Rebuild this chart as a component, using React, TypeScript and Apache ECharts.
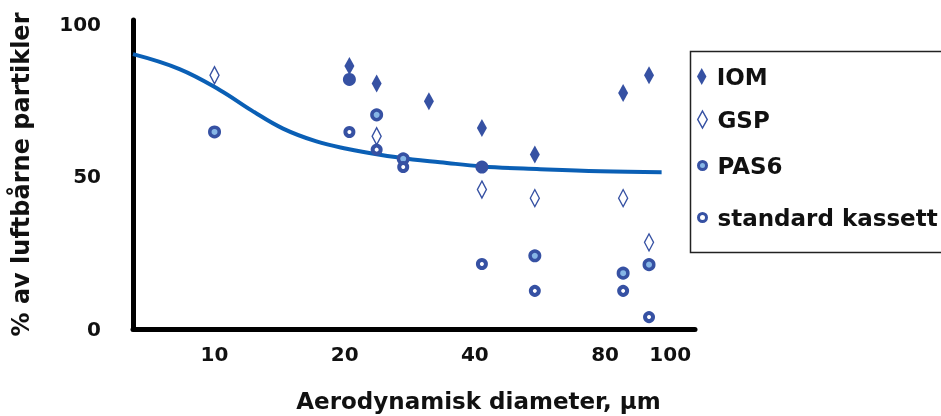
import React, { useEffect, useRef } from "react";
import * as echarts from "echarts";

// ---- data ----
const DIAMETER_REF = 10; // µm, the x axis is logarithmic (base 2) around this value

const xTickLabels = ["10", "20", "40", "80", "100"];
const xTickDiameters = [10, 20, 40, 80, 113]; // where each tick label sits on the axis
const xMinDiameter = 6.48;
const xMaxDiameter = 129;

const iomX = [20.5, 23.7, 31.3, 41.5, 55, 88, 101];
const iomY = [86.2, 80.5, 74.7, 65.9, 57.2, 77.4, 83.2];

const gspX = [10, 23.7, 41.5, 55, 88, 101];
const gspY = [83.2, 63.2, 45.7, 42.9, 42.9, 28.4];

const pas6X = [10, 23.7, 27.3, 55, 88, 101];
const pas6Y = [64.6, 70.2, 55.8, 24.0, 18.3, 21.1];

const stdX = [20.5, 23.7, 27.3, 41.5, 55, 88, 101];
const stdY = [64.6, 58.8, 53.1, 21.3, 12.5, 12.5, 3.9];

const solidX = [20.5, 41.5];
const solidY = [81.8, 53.1];

const curveX = [6.48, 8.3, 10.3, 12.2, 14.4, 17.2, 20.2, 24.1, 28.7, 33.2, 41.5, 56.6, 77.9, 108];
const curveY = [90.1, 85.2, 78.3, 71.6, 65.7, 61.5, 59.1, 57.1, 55.6, 54.7, 53.3, 52.4, 51.7, 51.4];

const legendNames = ["IOM", "GSP", "PAS6", "standard kassett"];

// ---- styling ----
const DARK = "#3651a3";
const LIGHT = "#86b6e6";
const CURVE = "#0a5fb5";
const FONT = "DejaVu Sans";

const toU = (d: number) => Math.log2(d / DIAMETER_REF);
const pts = (xs: number[], ys: number[]) => xs.map((x, i) => [toU(x), ys[i]]);

const DIAMOND_ICON = "path://M5,0L10,9L5,18L0,9Z";
const CIRCLE_ICON = "path://M0,5a5,5 0 1,0 10,0a5,5 0 1,0 -10,0Z";

export default function App() {
  const ref = useRef<HTMLDivElement>(null);
  useEffect(() => {
    if (!ref.current) return;
    const chart = echarts.init(ref.current, undefined, { renderer: "svg" });

    const legendCfg = [
      { name: legendNames[0], icon: DIAMOND_ICON, h: 17, top: 65, bw: 0 },
      { name: legendNames[1], icon: DIAMOND_ICON, h: 17, top: 108, bw: 1.5 },
      { name: legendNames[2], icon: CIRCLE_ICON, h: 8, top: 154, bw: 3 },
      { name: legendNames[3], icon: CIRCLE_ICON, h: 8, top: 206, bw: 3 },
    ];

    chart.setOption({
      animation: false,
      textStyle: { fontFamily: FONT },
      grid: { left: 133, right: 246, top: 20, bottom: 87, outerBoundsMode: "none" },
      xAxis: {
        type: "value",
        min: toU(xMinDiameter),
        max: toU(xMaxDiameter),
        interval: 0.125,
        name: "Aerodynamisk diameter, μm",
        nameLocation: "middle",
        nameGap: 60,
        nameTextStyle: {
          fontFamily: FONT,
          fontSize: 23,
          fontWeight: "bold",
          color: "#111",
          padding: [0, 0, 0, 129],
        },
        axisLine: { onZero: false, lineStyle: { color: "#000", width: 5 } },
        axisTick: { show: false },
        splitLine: { show: false },
        axisLabel: {
          margin: 15,
          fontFamily: FONT,
          fontSize: 20,
          fontWeight: "bold",
          color: "#111",
          formatter: (v: number) => {
            const i = xTickDiameters.findIndex((d) => Math.abs(toU(d) - v) < 0.03);
            return i >= 0 ? xTickLabels[i] : "";
          },
        },
      },
      yAxis: {
        type: "value",
        min: 0,
        max: 101.3,
        interval: 50,
        name: "% av luftbårne partikler",
        nameLocation: "middle",
        nameGap: 100,
        nameRotate: 90,
        nameTextStyle: { fontFamily: FONT, fontSize: 24, fontWeight: "bold", color: "#111" },
        axisLine: { show: true, onZero: false, lineStyle: { color: "#000", width: 5 } },
        axisTick: { show: false },
        splitLine: { show: false },
        axisLabel: {
          margin: 32,
          fontFamily: FONT,
          fontSize: 20,
          fontWeight: "bold",
          color: "#111",
          formatter: (v: number) => (Math.abs(v % 50) < 1e-9 ? String(v) : ""),
        },
      },
      legend: legendCfg.map((c) => ({
        data: [{ name: c.name, icon: c.icon }],
        orient: "vertical",
        left: 697,
        top: c.top,
        padding: 0,
        itemWidth: 20,
        itemHeight: c.h,
        symbolKeepAspect: true,
        selectedMode: false,
        itemStyle: c.bw > 0 ? { borderWidth: c.bw, opacity: 1 } : { opacity: 1 },
        textStyle: { fontFamily: FONT, fontSize: 23, fontWeight: "bold", color: "#111" },
      })),
      graphic: [
        {
          type: "rect",
          left: 688,
          top: 49,
          shape: { width: 300, height: 201 },
          style: { fill: "none", stroke: "#222", lineWidth: 1.5 },
          silent: true,
        },
      ],
      series: [
        {
          type: "line",
          name: "kurve",
          data: pts(curveX, curveY),
          smooth: 0.4,
          showSymbol: false,
          lineStyle: { color: CURVE, width: 4 },
          z: 1,
        },
        {
          type: "scatter",
          name: legendNames[0],
          data: pts(iomX, iomY),
          symbol: "diamond",
          symbolSize: [10, 18],
          itemStyle: { color: DARK, opacity: 1 },
          z: 3,
        },
        {
          type: "scatter",
          name: legendNames[1],
          data: pts(gspX, gspY),
          symbol: "diamond",
          symbolSize: [9, 17],
          itemStyle: { color: "#fff", borderColor: DARK, borderWidth: 1.5, opacity: 1 },
          z: 3,
        },
        {
          type: "scatter",
          name: "solid",
          data: pts(solidX, solidY),
          symbol: "circle",
          symbolSize: 13,
          itemStyle: { color: DARK, opacity: 1 },
          z: 3,
        },
        {
          type: "scatter",
          name: legendNames[2],
          data: pts(pas6X, pas6Y),
          symbol: "circle",
          symbolSize: 9.5,
          itemStyle: { color: LIGHT, borderColor: DARK, borderWidth: 3.5, opacity: 1 },
          z: 4,
        },
        {
          type: "scatter",
          name: legendNames[3],
          data: pts(stdX, stdY),
          symbol: "circle",
          symbolSize: 8,
          itemStyle: { color: "#fff", borderColor: DARK, borderWidth: 4, opacity: 1 },
          z: 4,
        },
      ],
    });
    return () => chart.dispose();
  }, []);
  return <div ref={ref} style={{ position: "fixed", left: 0, top: 0, width: 941, height: 416 }} />;
}
